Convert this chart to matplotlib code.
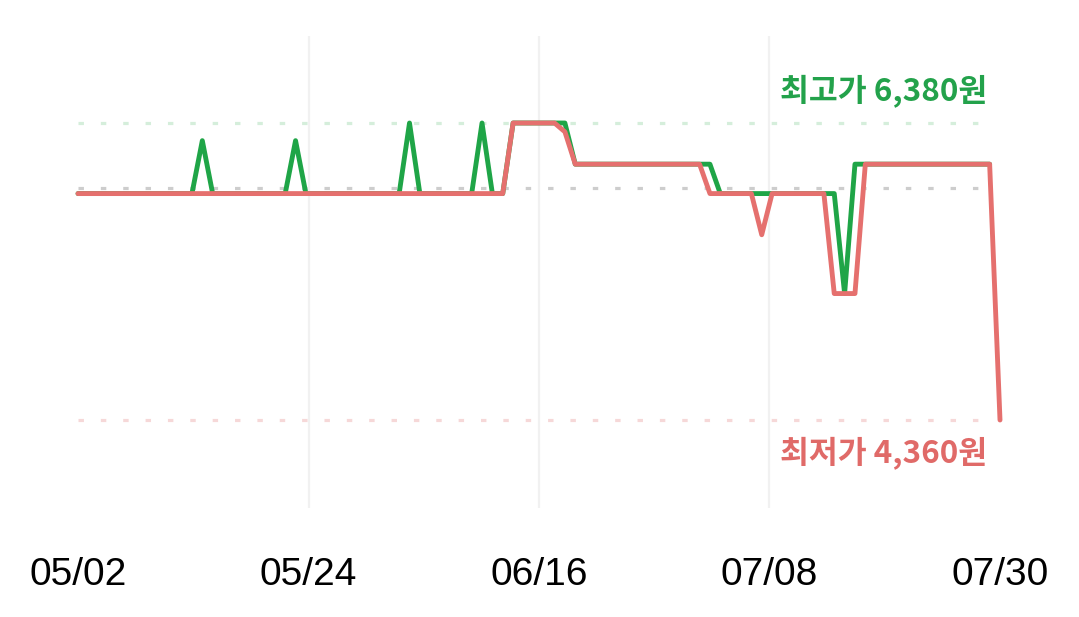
import matplotlib
matplotlib.use("Agg")
import matplotlib.pyplot as plt
import numpy as np

# ---------------- data ----------------
tick_labels = ["05/02", "05/24", "06/16", "07/08", "07/30"]

# daily highest price (05/02 .. 07/29)
high_prices = [
    5900, 5900, 5900, 5900, 5900, 5900, 5900, 5900, 5900, 5900, 5900, 5900,
    6260,
    5900, 5900, 5900, 5900, 5900, 5900, 5900, 5900,
    6260,
    5900, 5900, 5900, 5900, 5900, 5900, 5900, 5900, 5900, 5900,
    6380,
    5900, 5900, 5900, 5900, 5900, 5900,
    6380,
    5900, 5900,
    6380, 6380, 6380, 6380, 6380, 6380,
    6100, 6100, 6100, 6100, 6100, 6100, 6100, 6100, 6100, 6100, 6100, 6100, 6100, 6100,
    5900, 5900, 5900, 5900, 5900, 5900, 5900, 5900, 5900, 5900, 5900, 5900,
    5220,
    6100, 6100, 6100, 6100, 6100, 6100, 6100, 6100, 6100, 6100, 6100, 6100, 6100, 6100,
]

# daily lowest price (05/02 .. 07/30)
low_prices = [
    5900, 5900, 5900, 5900, 5900, 5900, 5900, 5900, 5900, 5900, 5900, 5900,
    5900, 5900, 5900, 5900, 5900, 5900, 5900, 5900, 5900, 5900, 5900, 5900,
    5900, 5900, 5900, 5900, 5900, 5900, 5900, 5900, 5900, 5900, 5900, 5900,
    5900, 5900, 5900, 5900, 5900, 5900,
    6380, 6380, 6380, 6380, 6380,
    6320,
    6100, 6100, 6100, 6100, 6100, 6100, 6100, 6100, 6100, 6100, 6100, 6100, 6100,
    5900, 5900, 5900, 5900, 5900,
    5620,
    5900, 5900, 5900, 5900, 5900, 5900,
    5220, 5220, 5220,
    6100, 6100, 6100, 6100, 6100, 6100, 6100, 6100, 6100, 6100, 6100, 6100, 6100,
    4360,
]

max_price = 6380
min_price = 4360
avg_price = 5940

# ---------------- style ----------------
GREEN = "#1fa547"
RED = "#e5706e"
GREEN_TXT = "#23a24b"
RED_TXT = "#e06a68"

W, H = 1079, 617
fig = plt.figure(figsize=(W / 100, H / 100), dpi=100)
fig.patch.set_facecolor("white")

ax_left, ax_right, ax_top, ax_bottom = 78, 1000, 36, 508
ax = fig.add_axes([ax_left / W, 1 - ax_bottom / H,
                   (ax_right - ax_left) / W, (ax_bottom - ax_top) / H])

n_days = len(low_prices)
ax.set_xlim(0, n_days - 1)

y_max_px, y_min_px = 123, 420
px_per_won = (y_min_px - y_max_px) / (max_price - min_price)
ax.set_ylim(min_price - (ax_bottom - y_min_px) / px_per_won,
            max_price + (y_max_px - ax_top) / px_per_won)

for s in ax.spines.values():
    s.set_visible(False)
ax.set_yticks([])

tick_pos = np.linspace(0, n_days - 1, len(tick_labels))
ax.set_xticks(tick_pos)
ax.set_xticklabels(tick_labels, fontsize=28, family="Liberation Sans", color="black")
ax.tick_params(axis="x", length=0, pad=35)
for xp in tick_pos[1:-1]:
    ax.axvline(xp, color="#f1f1f1", linewidth=1.6, zorder=0)

ref_end = (n_days - 2) / (n_days - 1)
ax.axhline(max_price, xmin=0, xmax=ref_end, color="#d5eedb", lw=2.3,
           dashes=(1.7, 5.3), zorder=1)
ax.axhline(avg_price, xmin=0, xmax=ref_end, color="#cdcdcd", lw=2.3,
           dashes=(1.7, 5.3), zorder=1)
ax.axhline(min_price, xmin=0, xmax=ref_end, color="#f6d8d8", lw=2.3,
           dashes=(1.7, 5.3), zorder=1)

ax.plot(np.arange(len(high_prices)), high_prices, color=GREEN, lw=3.5,
        solid_joinstyle="round", solid_capstyle="round", clip_on=False, zorder=3)
ax.plot(np.arange(len(low_prices)), low_prices, color=RED, lw=3.5,
        solid_joinstyle="round", solid_capstyle="round", clip_on=False, zorder=4)

kfont = ["Noto Sans CJK KR", "DejaVu Sans"]
fig.text(780 / W, 1 - 91 / H, f"최고가 {max_price:,}원", color=GREEN_TXT,
         fontsize=22.6, fontweight="bold", family=kfont, ha="left", va="center")
fig.text(780 / W, 1 - 453 / H, f"최저가 {min_price:,}원", color=RED_TXT,
         fontsize=22.6, fontweight="bold", family=kfont, ha="left", va="center")

fig.savefig("out.png", dpi=100, facecolor="white")
